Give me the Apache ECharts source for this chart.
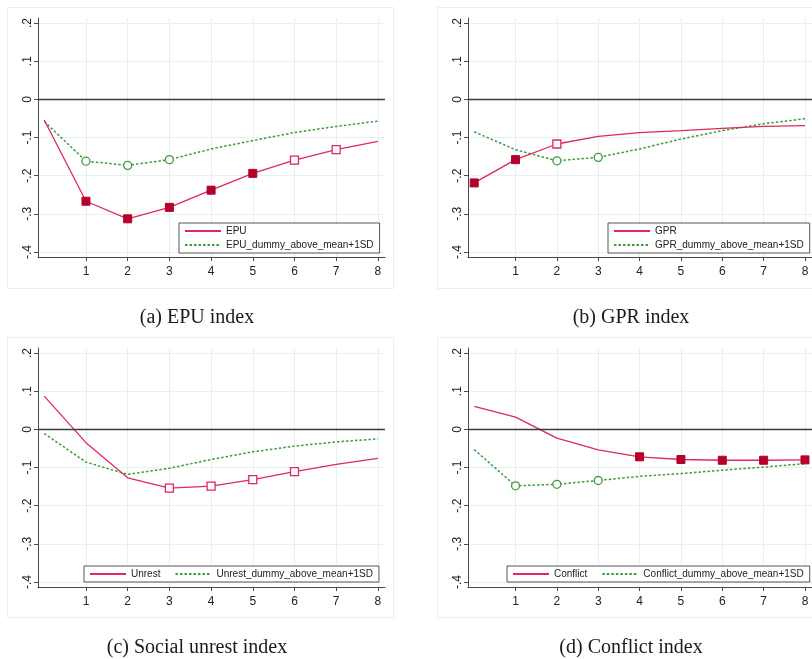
<!DOCTYPE html>
<html>
<head>
<meta charset="utf-8">
<script src="https://cdn.jsdelivr.net/npm/echarts@6/dist/echarts.min.js"></script>
<style>
  html, body { margin: 0; padding: 0; background: #ffffff; }
  #chart { width: 812px; height: 659px; }
</style>
</head>
<body>
<div id="chart"></div>
<script>
// Impulse responses over horizons 0..8
const horizons = [0, 1, 2, 3, 4, 5, 6, 7, 8];
const xTicks = [1, 2, 3, 4, 5, 6, 7, 8];
const yTicks = [-0.4, -0.3, -0.2, -0.1, 0, 0.1, 0.2];

// Significance flags per horizon: 2 = significant (filled), 1 = weakly significant (hollow), 0 = not
const epu       = [-0.054, -0.267, -0.313, -0.283, -0.238, -0.194, -0.159, -0.132, -0.110];
const epuSig    = [0, 2, 2, 2, 2, 2, 1, 1, 0];
const epuDum    = [-0.058, -0.162, -0.173, -0.158, -0.130, -0.108, -0.087, -0.071, -0.057];
const epuDumSig = [0, 1, 1, 1, 0, 0, 0, 0, 0];

const gpr       = [-0.219, -0.158, -0.117, -0.097, -0.087, -0.082, -0.076, -0.071, -0.069];
const gprSig    = [2, 2, 1, 0, 0, 0, 0, 0, 0];
const gprDum    = [-0.085, -0.132, -0.161, -0.152, -0.130, -0.104, -0.082, -0.064, -0.051];
const gprDumSig = [0, 0, 1, 1, 0, 0, 0, 0, 0];

const unrest       = [0.087, -0.035, -0.127, -0.154, -0.149, -0.132, -0.111, -0.092, -0.076];
const unrestSig    = [0, 0, 0, 1, 1, 1, 1, 0, 0];
const unrestDum    = [-0.011, -0.086, -0.118, -0.102, -0.079, -0.059, -0.044, -0.033, -0.025];
const unrestDumSig = [0, 0, 0, 0, 0, 0, 0, 0, 0];

const conflict       = [0.060, 0.032, -0.023, -0.054, -0.072, -0.079, -0.081, -0.081, -0.080];
const conflictSig    = [0, 0, 0, 0, 2, 2, 2, 2, 2];
const conflictDum    = [-0.053, -0.148, -0.144, -0.134, -0.123, -0.116, -0.107, -0.099, -0.090];
const conflictDumSig = [0, 1, 1, 1, 0, 0, 0, 0, 0];

const panelNames = [
  ['EPU', 'EPU_dummy_above_mean+1SD'],
  ['GPR', 'GPR_dummy_above_mean+1SD'],
  ['Unrest', 'Unrest_dummy_above_mean+1SD'],
  ['Conflict', 'Conflict_dummy_above_mean+1SD']
];
const captions = ['(a) EPU index', '(b) GPR index', '(c) Social unrest index', '(d) Conflict index'];

const panelData = [
  [epu, epuSig, epuDum, epuDumSig],
  [gpr, gprSig, gprDum, gprDumSig],
  [unrest, unrestSig, unrestDum, unrestDumSig],
  [conflict, conflictSig, conflictDum, conflictDumSig]
];

const RED = '#e0285a';
const RED_FILL = '#b4002c';
const GREEN = '#3a9d3a';
const GRID_LINE = '#e6eff2';
const AXIS = '#4a4a4a';
const SANS = 'Liberation Sans, Arial, sans-serif';

// panel layout: plot origin per panel
const plotLefts = [38, 468, 38, 468];
const plotTops = [18, 18, 348, 348];
const PLOT_W = 347, PLOT_H = 239;

function fmtTick(v) {
  const r = Math.round(v * 10) / 10;
  if (r === 0) return '0';
  return (r < 0 ? '-' : '') + Math.abs(r).toFixed(1).replace(/^0/, '');
}

function pointsFor(values, flags, kind) {
  return horizons.map((h, i) => {
    const item = { value: [h, values[i]] };
    const f = flags[i];
    if (f === 0) {
      item.symbol = 'none';
    } else if (kind === 'square') {
      item.symbol = 'rect';
      item.symbolSize = 8;
      item.itemStyle = f === 2
        ? { color: RED_FILL, borderColor: RED_FILL, borderWidth: 1 }
        : { color: '#ffffff', borderColor: RED, borderWidth: 1.3 };
    } else {
      item.symbol = 'circle';
      item.symbolSize = 8;
      item.itemStyle = { color: '#ffffff', borderColor: GREEN, borderWidth: 1.3 };
    }
    return item;
  });
}

const grid = [], xAxis = [], yAxis = [], series = [], legend = [], graphic = [];

// light frames around each panel
const frames = [
  { x: 7, y: 7, w: 386, h: 281 },
  { x: 437, y: 7, w: 400, h: 281 },
  { x: 7, y: 337, w: 386, h: 280 },
  { x: 437, y: 337, w: 400, h: 280 }
];
frames.forEach(f => {
  graphic.push({
    type: 'rect', silent: true, z: -10,
    shape: { x: f.x + 0.5, y: f.y + 0.5, width: f.w, height: f.h },
    style: { fill: '#ffffff', stroke: '#e8eef1', lineWidth: 1 }
  });
});

const captionCenters = [[197, 318], [631, 318], [197, 648], [631, 648]];
captions.forEach((c, i) => {
  graphic.push({
    type: 'text', silent: true,
    x: captionCenters[i][0], y: captionCenters[i][1],
    style: {
      text: c, fill: '#1a1a1a',
      font: '20px "Liberation Serif", serif',
      textAlign: 'center', textVerticalAlign: 'middle'
    }
  });
});

const legendLayouts = [
  { left: 179, top: 223, orient: 'vertical' },
  { left: 608, top: 223, orient: 'vertical' },
  { left: 84, top: 566, orient: 'horizontal' },
  { left: 507, top: 566, orient: 'horizontal' }
];

for (let p = 0; p < 4; p++) {
  grid.push({ left: plotLefts[p], top: plotTops[p], width: PLOT_W, height: PLOT_H, containLabel: false });
  xAxis.push({
    type: 'value', gridIndex: p, min: -0.15, max: 8.17,
    axisLine: { show: true, onZero: false, lineStyle: { color: AXIS, width: 1 } },
    axisTick: { show: true, length: 4, customValues: xTicks, lineStyle: { color: AXIS } },
    axisLabel: { customValues: xTicks, color: '#222', fontSize: 12, margin: 9, fontFamily: SANS },
    splitLine: { show: true, lineStyle: { color: GRID_LINE, width: 1 } }
  });
  yAxis.push({
    type: 'value', gridIndex: p, min: -0.413, max: 0.213,
    axisLine: { show: true, onZero: false, lineStyle: { color: AXIS, width: 1 } },
    axisTick: { show: true, length: 4, customValues: yTicks, lineStyle: { color: AXIS } },
    axisLabel: {
      customValues: yTicks, rotate: 90, color: '#222', fontSize: 12, margin: 4,
      fontFamily: SANS, formatter: fmtTick
    },
    splitLine: { show: true, lineStyle: { color: GRID_LINE, width: 1 } }
  });

  const [base, baseSig, dum, dumSig] = panelData[p];
  series.push({
    name: panelNames[p][0], type: 'line', xAxisIndex: p, yAxisIndex: p,
    symbol: 'none', showSymbol: true, z: 3,
    lineStyle: { color: RED, width: 1.3 },
    itemStyle: { color: RED },
    data: pointsFor(base, baseSig, 'square'),
    markLine: {
      silent: true, symbol: 'none', label: { show: false },
      lineStyle: { color: '#3a3a3a', width: 1.3, type: 'solid' },
      data: [{ yAxis: 0 }]
    }
  });
  series.push({
    name: panelNames[p][1], type: 'line', xAxisIndex: p, yAxisIndex: p,
    symbol: 'none', showSymbol: true, z: 2,
    lineStyle: { color: GREEN, width: 1.5, type: [2.5, 2] },
    itemStyle: { color: GREEN },
    data: pointsFor(dum, dumSig, 'circle')
  });

  const L = legendLayouts[p];
  legend.push({
    data: panelNames[p], left: L.left, top: L.top, width: 420, orient: L.orient,
    itemWidth: 36, itemHeight: 10, itemGap: L.orient === 'vertical' ? 4 : 14,
    padding: [3, 6, 3, 5],
    borderColor: '#555', borderWidth: 1, backgroundColor: '#ffffff',
    borderRadius: 0, selectedMode: false,
    itemStyle: { opacity: 0, borderWidth: 0 },
    textStyle: { color: '#222', fontSize: 10, fontFamily: SANS }
  });
}

const chart = echarts.init(document.getElementById('chart'), null, { renderer: 'canvas' });
chart.setOption({
  animation: false,
  backgroundColor: '#ffffff',
  grid, xAxis, yAxis, series, legend, graphic
});
</script>
</body>
</html>
